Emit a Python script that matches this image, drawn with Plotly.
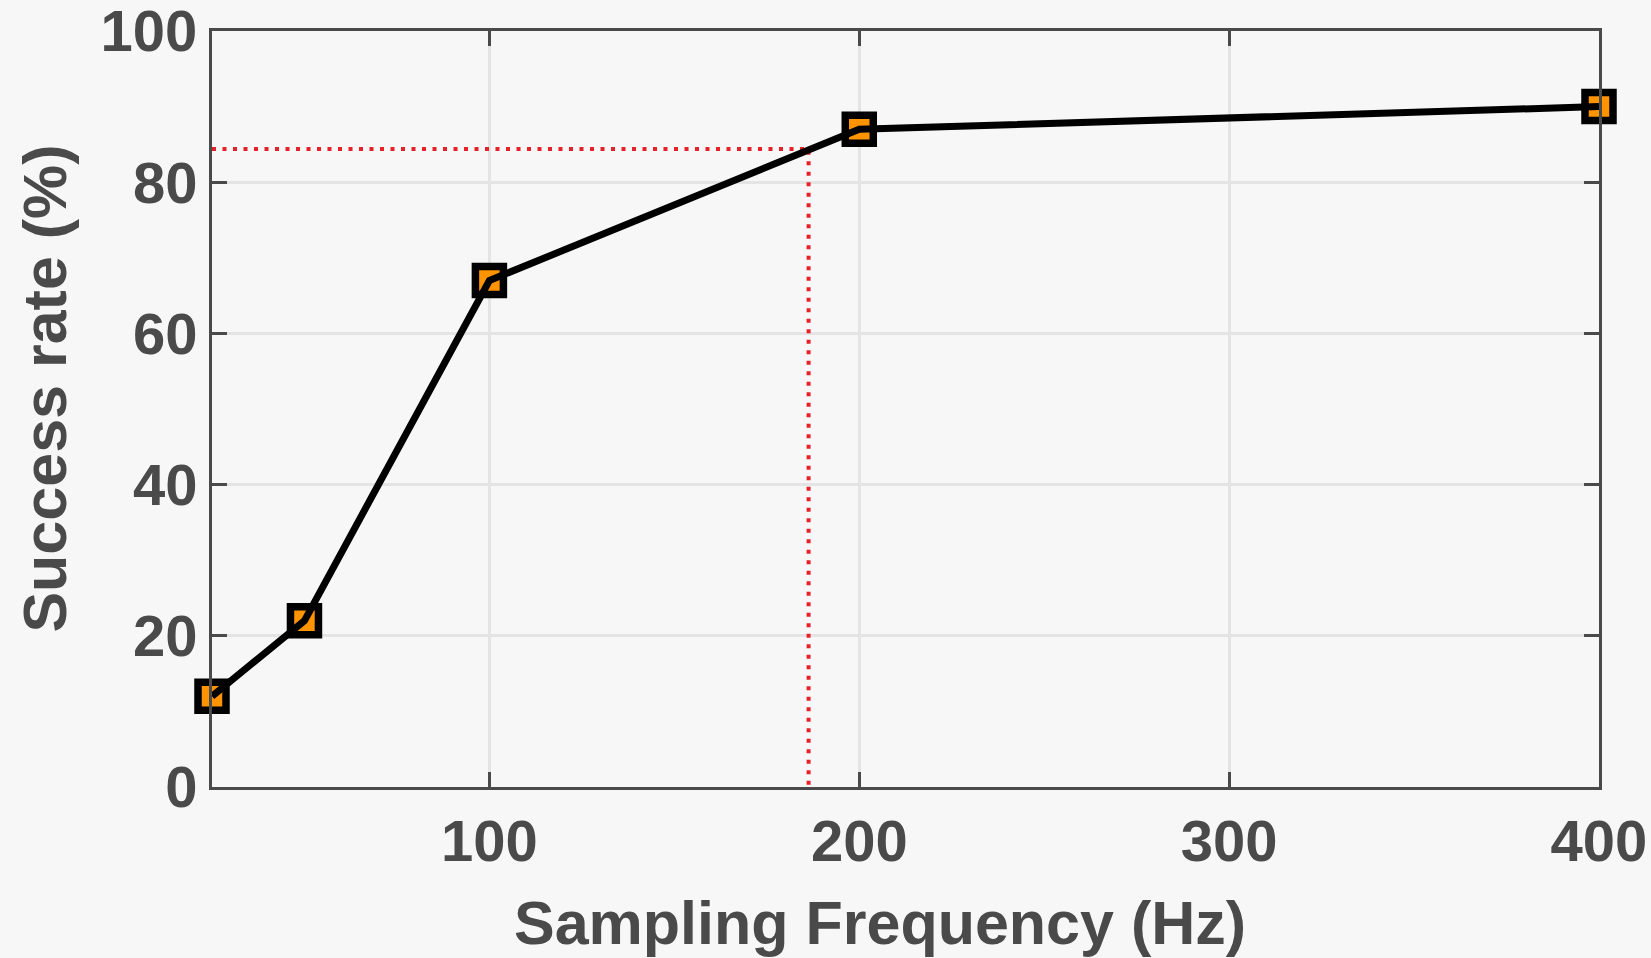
import plotly.graph_objects as go

# Data
freq_hz = [25, 50, 100, 200, 400]
success_rate = [12, 22, 67, 87, 90]
x_ticks = [100, 200, 300, 400]
y_ticks = [0, 20, 40, 60, 80, 100]
threshold_x = 186.3
threshold_y = 84.4

TXT = "#4a4a4a"
FONT = "Liberation Sans, Arial, Helvetica, sans-serif"

fig = go.Figure()

# red dotted guide lines
fig.add_trace(go.Scatter(
    x=[freq_hz[0], threshold_x, threshold_x], y=[threshold_y, threshold_y, 0],
    mode="lines", line=dict(color="#e8202a", width=4, dash="4px,6.5px"),
    hoverinfo="skip", showlegend=False, cliponaxis=False))

# markers (drawn below the line as in the reference)
fig.add_trace(go.Scatter(
    x=freq_hz, y=success_rate, mode="markers",
    marker=dict(symbol="square", size=28, color="#ff9400",
                line=dict(color="black", width=7.5)),
    showlegend=False, cliponaxis=False))

fig.add_trace(go.Scatter(
    x=freq_hz, y=success_rate, mode="lines",
    line=dict(color="black", width=7),
    showlegend=False, cliponaxis=False))

axis_common = dict(
    showline=True, linecolor=TXT, linewidth=3, mirror="ticks",
    ticks="inside", ticklen=15, tickwidth=3, tickcolor=TXT,
    showgrid=True, gridcolor="#e4e4e4", gridwidth=3,
    zeroline=False, automargin=False, ticklabeloverflow="allow",
    tickfont=dict(family=FONT, size=58, color=TXT, weight="bold"),
)

fig.update_xaxes(
    range=[25, 400], tickvals=x_ticks, ticktext=[str(v) for v in x_ticks],
    ticklabelstandoff=1, **axis_common)
fig.update_yaxes(
    range=[0, 100], tickvals=y_ticks, ticktext=[str(v) for v in y_ticks],
    ticklabelstandoff=0, **axis_common)

title_font = dict(family=FONT, size=61, color=TXT, weight="bold")
fig.add_annotation(text="Sampling Frequency (Hz)", xref="paper", yref="paper",
                   x=0.4817, y=-0.1797, xanchor="center", yanchor="middle",
                   showarrow=False, font=title_font)
fig.add_annotation(text="Success rate (%)", xref="paper", yref="paper",
                   x=-0.1204, y=0.527, xanchor="center", yanchor="middle",
                   textangle=-90, showarrow=False, font=title_font)

fig.update_layout(
    width=1651, height=958,
    margin=dict(l=212, r=52, t=31, b=171, pad=0),
    paper_bgcolor="#f7f7f7", plot_bgcolor="#f7f7f7",
    showlegend=False,
)

fig.write_html("out.html", config={"displayModeBar": False},
               post_script="document.body.style.margin='0';document.body.style.background='#f7f7f7';")
